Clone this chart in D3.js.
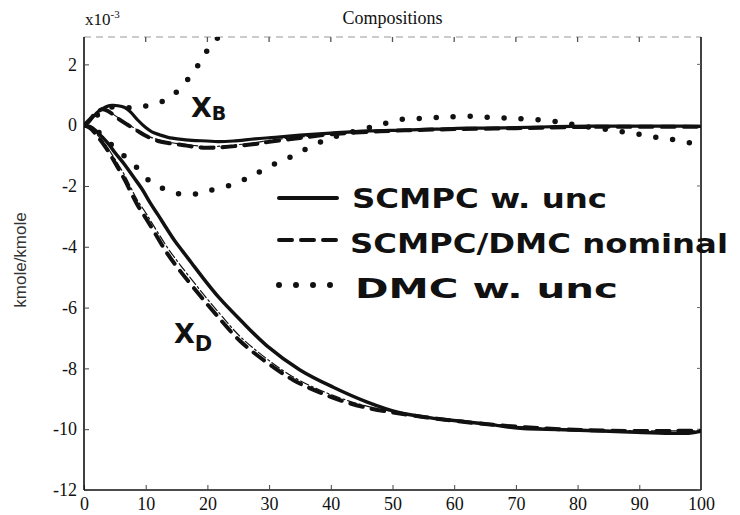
<!DOCTYPE html>
<html><head><meta charset="utf-8">
<script src="https://cdn.jsdelivr.net/npm/d3@7"></script>
<style>body{margin:0;background:#fff} svg{display:block}</style>
</head><body>
<script>
// ---- data ----
const xTicks = [0,10,20,30,40,50,60,70,80,90,100];
const yTicks = [2,0,-2,-4,-6,-8,-10,-12];
const titleText = "Compositions";
const yLabel = "kmole/kmole";
const legendLabels = ["SCMPC w. unc","SCMPC/DMC nominal","DMC w. unc"];

// SCMPC w. unc (solid) - X_B
const solidXB_t = [0,0.7,1.5,2.5,3.5,4.5,5.5,6.6,7.6,8.7,10,11,12.3,13.6,15.5,17.5,19.9,21.7,24.2,27.7,31,35,40,46,52,57,62,68,74,79,85,90,95,100];
const solidXB_y = [0,0.08,0.28,0.48,0.6,0.65,0.64,0.58,0.42,0.17,-0.08,-0.22,-0.32,-0.4,-0.46,-0.5,-0.52,-0.54,-0.52,-0.45,-0.4,-0.33,-0.26,-0.19,-0.16,-0.13,-0.1,-0.09,-0.06,-0.04,-0.03,-0.03,-0.03,-0.04];
// SCMPC w. unc (solid) - X_D
const solidXD_t = [0,1,2,3,4,5,6.6,8,9.4,10.7,12,13.4,14.7,16,17.5,19,22,25.3,29.6,35,40.4,45.8,51,57,62.5,66,70.7,75,79,84,89.6,95,98,100];
const solidXD_y = [0,-0.05,-0.2,-0.4,-0.62,-0.9,-1.3,-1.7,-2.1,-2.55,-2.95,-3.4,-3.8,-4.15,-4.55,-4.95,-5.7,-6.4,-7.25,-8.05,-8.62,-9.1,-9.45,-9.65,-9.77,-9.85,-9.97,-10.0,-10.03,-10.06,-10.1,-10.13,-10.13,-10.07];

// nominal (dashed) - X_B
const dashedXB_t = [0,1,2,3,4,5.5,7,8.6,10,12,14,15.9,17.5,19.3,21,22.8,25,27.7,30,35,40,46,52,60,70,80,90,100];
const dashedXB_y = [0,0.2,0.42,0.52,0.45,0.22,0.02,-0.18,-0.35,-0.52,-0.6,-0.65,-0.7,-0.74,-0.74,-0.72,-0.68,-0.62,-0.55,-0.42,-0.3,-0.22,-0.17,-0.13,-0.1,-0.06,-0.05,-0.05];
// nominal (thin dash-dot) - X_B
const dashDotXB_y = [0,0.18,0.4,0.5,0.45,0.25,0.05,-0.15,-0.32,-0.48,-0.57,-0.62,-0.66,-0.7,-0.7,-0.68,-0.64,-0.58,-0.5,-0.39,-0.29,-0.21,-0.16,-0.12,-0.08,-0.05,-0.04,-0.04];
// nominal (dashed) - X_D
const dashedXD_t = [0,1,2.3,3.4,4.5,5.5,6.6,8.6,10,11.2,13.6,15.6,18.8,21.5,25.3,29.6,33.9,38.3,42.6,46,50,57,65,75,85,100];
const dashedXD_y = [0,-0.1,-0.4,-0.7,-1.05,-1.4,-1.8,-2.6,-3.05,-3.45,-4.25,-4.8,-5.6,-6.25,-7.1,-7.8,-8.38,-8.8,-9.12,-9.3,-9.45,-9.65,-9.83,-9.98,-10.05,-10.05];
// nominal (thin dash-dot) - X_D
const dashDotXD_y = [0,-0.08,-0.35,-0.62,-0.95,-1.28,-1.65,-2.45,-2.88,-3.28,-4.05,-4.6,-5.42,-6.08,-6.95,-7.68,-8.28,-8.72,-9.05,-9.25,-9.42,-9.63,-9.82,-9.97,-10.04,-10.05];

// DMC w. unc (dotted) - X_B
const dottedXB_t = [0,1,2,3,4.5,6,7.5,8.8,10.7,12.6,14.5,16.4,17.7,19.1,20.1,21,22,23];
const dottedXB_y = [0,0.1,0.3,0.48,0.6,0.58,0.57,0.6,0.65,0.77,1.0,1.4,1.75,2.15,2.5,2.72,2.95,3.3];
// DMC w. unc (dotted) - X_D
const dottedXD_t = [0,1.5,3,5,7,8.6,9.9,11.5,13.6,15.6,17.7,19.6,21.7,24.2,26.1,27.4,30.6,33.4,35.5,37.8,39,42,45.8,49,51.8,54.5,57.2,59.3,62,64.5,67,69.3,72,75,77.7,80,82.5,85.7,89,92.2,95.3,98.2,100];
const dottedXD_y = [0,-0.1,-0.35,-0.75,-1.1,-1.4,-1.7,-1.97,-2.14,-2.27,-2.27,-2.2,-2.07,-1.95,-1.78,-1.65,-1.3,-1.05,-0.83,-0.6,-0.5,-0.3,-0.1,0.07,0.2,0.22,0.25,0.27,0.3,0.27,0.25,0.22,0.2,0.15,0.08,0,-0.08,-0.17,-0.27,-0.38,-0.47,-0.58,-0.62];

// ---- drawing ----
const W = 740, H = 515;
const svg = d3.select("body").append("svg").attr("width", W).attr("height", H)
  .style("background", "#fff");

const x = d3.scaleLinear().domain([0, 100]).range([84, 701]);
const y = d3.scaleLinear().domain([-12, 2.9]).range([490, 37]);

const serif = '"Liberation Serif", "Times New Roman", serif';
const hand = '"DejaVu Sans", sans-serif';

svg.append("defs").append("clipPath").attr("id", "plotclip")
  .append("rect").attr("x", x(0)).attr("y", y(2.9)).attr("width", x(100) - x(0)).attr("height", y(-12) - y(2.9));

// frame: top (faint scan), right
svg.append("line").attr("x1", x(0)).attr("x2", x(100)).attr("y1", y(2.9)).attr("y2", y(2.9))
  .attr("stroke", "#999").attr("stroke-width", 1.2).attr("stroke-dasharray", "7,5");
svg.append("line").attr("x1", x(100)).attr("x2", x(100)).attr("y1", y(2.9)).attr("y2", y(-12))
  .attr("stroke", "#111").attr("stroke-width", 1.6);

// axes
const xAxis = d3.axisBottom(x).tickValues(xTicks).tickSize(-5).tickPadding(7).tickFormat(d3.format("d"));
const gx = svg.append("g").attr("transform", `translate(0,${y(-12)})`).call(xAxis);
const yAxis = d3.axisLeft(y).tickValues(yTicks).tickSize(-5).tickPadding(7).tickFormat(d => String(d).replace("\u2212", "-"));
const gy = svg.append("g").attr("transform", `translate(${x(0)},0)`).call(yAxis);
[gx, gy].forEach(g => {
  g.attr("font-family", null).attr("font-size", null);
  g.select(".domain").attr("stroke", "#111").attr("stroke-width", 1.6);
  g.selectAll(".tick line").attr("stroke", "#444").attr("stroke-width", 1);
  g.selectAll(".tick text").style("font-family", serif).style("font-size", "18px").attr("fill", "#111");
});
gy.select(".domain").attr("d", `M0,${y(2.9)}V${y(-12)}`);
gx.select(".domain").attr("d", `M${x(0)},0H${x(100)}`);
// right-side and top inward ticks
svg.append("g").selectAll("line").data(yTicks).join("line")
  .attr("x1", x(100) - 4).attr("x2", x(100)).attr("y1", d => y(d)).attr("y2", d => y(d))
  .attr("stroke", "#666").attr("stroke-width", 1);
svg.append("g").selectAll("line").data(xTicks.slice(1, -1)).join("line")
  .attr("x1", d => x(d)).attr("x2", d => x(d)).attr("y1", y(2.9)).attr("y2", y(2.9) + 5)
  .attr("stroke", "#555").attr("stroke-width", 1.3);

// title, exponent, y label
svg.append("text").attr("x", (x(0) + x(100)) / 2).attr("y", 24).attr("text-anchor", "middle")
  .style("font-family", serif).style("font-size", "18px").attr("fill", "#111").text(titleText);
const ex = svg.append("text").attr("x", 85).attr("y", 25).style("font-family", serif)
  .style("font-size", "17px").attr("fill", "#111");
ex.append("tspan").text("x10");
ex.append("tspan").attr("dy", -7).style("font-size", "11px").text("-3");
svg.append("text").attr("transform", `translate(26,${260}) rotate(-90)`).attr("text-anchor", "middle")
  .style("font-family", '"Liberation Sans", Arial, sans-serif').style("font-size", "17px").attr("fill", "#333")
  .text(yLabel);

// series
const plot = svg.append("g").attr("clip-path", "url(#plotclip)");
const line = d3.line().x(d => x(d[0])).y(d => y(d[1])).curve(d3.curveCatmullRom.alpha(0.5));
const zip = (t, v) => t.map((ti, i) => [ti, v[i]]);

const series = [
  { d: zip(dashedXD_t, dashDotXD_y), w: 1.2, dash: "9,3,2,3" },
  { d: zip(dashedXB_t, dashDotXB_y), w: 1.2, dash: "9,3,2,3" },
  { d: zip(dashedXD_t, dashedXD_y), w: 4, dash: "13,9" },
  { d: zip(dashedXB_t, dashedXB_y), w: 4, dash: "13,9" },
  { d: zip(dottedXD_t, dottedXD_y), w: 5.5, dash: "0,17" },
  { d: zip(dottedXB_t, dottedXB_y), w: 5.5, dash: "0,17" },
  { d: zip(solidXD_t, solidXD_y), w: 3.5, dash: null },
  { d: zip(solidXB_t, solidXB_y), w: 3.2, dash: null },
];
plot.selectAll("path.s").data(series).join("path").attr("class", "s")
  .attr("d", s => line(s.d)).attr("fill", "none").attr("stroke", "#111")
  .attr("stroke-width", s => s.w).attr("stroke-dasharray", s => s.dash)
  .attr("stroke-linecap", "round").attr("stroke-linejoin", "round");

// handwritten legend
const legend = [
  { label: legendLabels[0], ly: 198, dash: null, w: 4, tx: 352, tw: 255, ty: 208 },
  { label: legendLabels[1], ly: 240, dash: "13,9", w: 4, tx: 350, tw: 378, ty: 253 },
  { label: legendLabels[2], ly: 285, dash: "0,17", w: 6, tx: 355, tw: 263, ty: 298 },
];
const lg = svg.append("g");
legend.forEach(l => {
  lg.append("line").attr("x1", 279).attr("x2", 337).attr("y1", l.ly).attr("y2", l.ly)
    .attr("stroke", "#111").attr("stroke-width", l.w).attr("stroke-dasharray", l.dash)
    .attr("stroke-linecap", "round");
  lg.append("text").attr("x", l.tx).attr("y", l.ty).style("font-family", hand).style("font-weight", "bold")
    .style("font-size", "27px").attr("fill", "#111").attr("textLength", l.tw).attr("lengthAdjust", "spacingAndGlyphs")
    .text(l.label);
});

// handwritten curve labels
const lb = svg.append("text").attr("x", 191).attr("y", 117).style("font-family", hand).style("font-weight", "bold")
  .style("font-size", "27px").attr("fill", "#111");
lb.append("tspan").text("X");
lb.append("tspan").attr("dy", 3).style("font-size", "19px").text("B");
const ld = svg.append("text").attr("x", 174).attr("y", 343).style("font-family", hand).style("font-weight", "bold")
  .style("font-size", "27px").attr("fill", "#111");
ld.append("tspan").text("X");
ld.append("tspan").attr("dy", 8).style("font-size", "21px").text("D");
</script>
</body></html>
